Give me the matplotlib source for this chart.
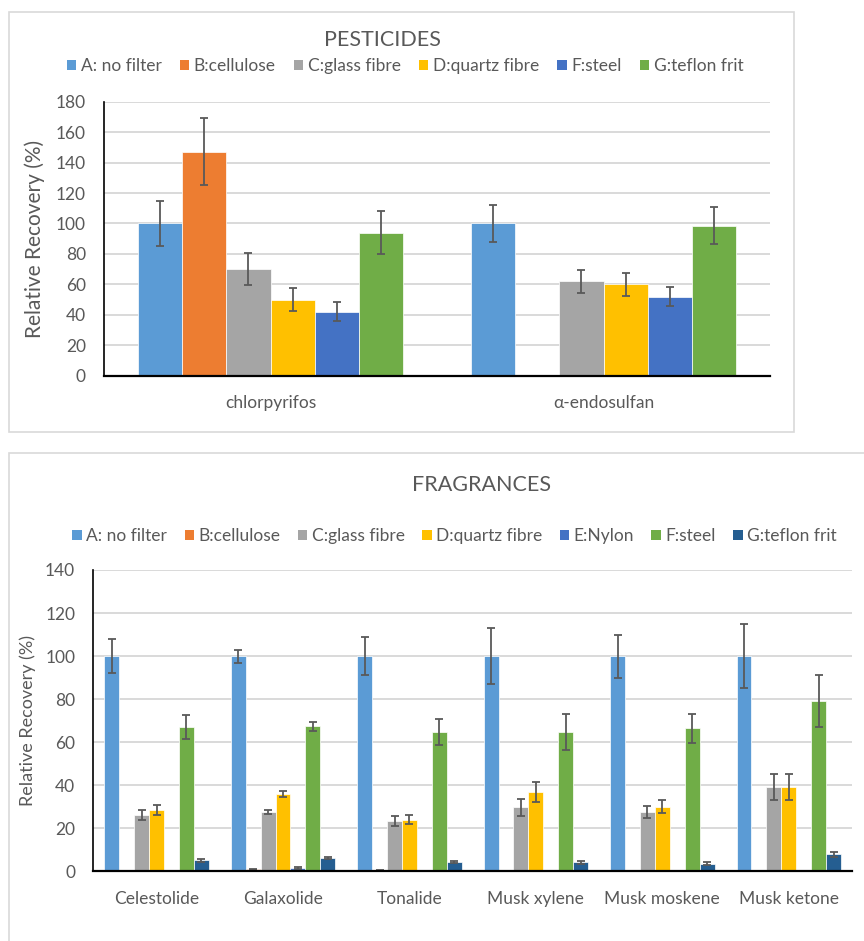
import numpy as np
import matplotlib
matplotlib.use("Agg")
import matplotlib.pyplot as plt
from matplotlib.patches import Patch, Rectangle

plt.rcParams['font.family'] = ['Lato', 'DejaVu Sans']

# ---------------- data ----------------
pest_categories = ["chlorpyrifos", "α-endosulfan"]
pest_series = ["A: no filter", "B:cellulose", "C:glass fibre", "D:quartz fibre", "F:steel", "G:teflon frit"]
pest_values = [
    [100, 100],
    [147, 0],
    [70, 62],
    [50, 60],
    [42, 52],
    [94, 98.5],
]
pest_errors = [
    [15, 12],
    [22, 0],
    [10.5, 7.5],
    [7.5, 7.4],
    [6.3, 6.4],
    [14.3, 12],
]

frag_categories = ["Celestolide", "Galaxolide", "Tonalide", "Musk xylene", "Musk moskene", "Musk ketone"]
frag_series = ["A: no filter", "B:cellulose", "C:glass fibre", "D:quartz fibre", "E:Nylon", "F:steel", "G:teflon frit"]
frag_values = [
    [100, 100, 100, 100, 100, 100],
    [0.3, 1.0, 0.4, 0, 0, 0],
    [26, 27.5, 23.5, 29.7, 27.5, 39.3],
    [28.3, 36, 24, 36.8, 30, 39.3],
    [0, 1.5, 0.3, 0, 0, 0],
    [66.9, 67.4, 64.9, 64.6, 66.5, 79.1],
    [5.1, 6.2, 4.3, 4.2, 3.6, 7.9],
]
frag_errors = [
    [8, 3, 9, 13, 10, 15],
    [0, 0.3, 0.1, 0, 0, 0],
    [2.3, 0.8, 2.3, 4, 2.8, 6],
    [2.3, 1.3, 2.2, 4.8, 3, 6],
    [0, 0.3, 0, 0, 0, 0],
    [5.5, 2.2, 6, 8.4, 6.7, 12],
    [0.6, 0.4, 0.6, 0.6, 0.5, 1.3],
]

pest_colors = ["#5B9BD5", "#ED7D31", "#A5A5A5", "#FFC000", "#4472C4", "#70AD47"]
frag_colors = ["#5B9BD5", "#ED7D31", "#A5A5A5", "#FFC000", "#4472C4", "#70AD47", "#255E91"]

# ---------------- layout helpers ----------------
W, H = 864, 941
fig = plt.figure(figsize=(W / 100, H / 100), dpi=100)
TXT = "#595959"
GRID = "#D9D9D9"


def fx(x):
    return x / W


def fy(y):
    return 1 - y / H


def axes_px(left, top, right, bottom):
    return fig.add_axes([fx(left), fy(bottom), (right - left) / W, (bottom - top) / H])


def draw_bars(ax, categories, values, errors, colors, group, ymax, step, skip_zero_err, label_size):
    n = len(values)
    x = np.arange(len(categories))
    bw = group / n
    for i, (vals, errs, col) in enumerate(zip(values, errors, colors)):
        pos = x - group / 2 + bw * (i + 0.5)
        vals = np.asarray(vals, float)
        errs = np.asarray(errs, float)
        ax.bar(pos, vals, width=bw, color=col, edgecolor="white", linewidth=0.5, zorder=2)
        e = errs.copy()
        if skip_zero_err:
            e[e == 0] = np.nan
        ax.errorbar(pos, vals, yerr=e, fmt="none", ecolor="#595959",
                    elinewidth=1.3, capsize=3.2, capthick=1.3, zorder=3)
    ax.set_xlim(-0.5, len(categories) - 0.5)
    ax.set_ylim(0, ymax)
    ax.set_yticks(np.arange(0, ymax + 1, step))
    ax.set_xticks(x)
    ax.set_xticklabels(categories)
    ax.yaxis.grid(True, color=GRID, linewidth=1.4, zorder=0)
    ax.set_axisbelow(True)
    for s in ("top", "right"):
        ax.spines[s].set_visible(False)
    ax.spines["left"].set_color("black")
    ax.spines["left"].set_linewidth(1.2)
    ax.spines["bottom"].set_color("black")
    ax.spines["bottom"].set_linewidth(1.6)
    ax.spines["bottom"].set_zorder(4)
    ax.tick_params(axis="y", length=0, pad=13, labelsize=12.5, labelcolor=TXT)
    ax.tick_params(axis="x", length=0, pad=14, labelsize=12.5, labelcolor=TXT)
    ax.set_ylabel("Relative Recovery (%)", fontsize=label_size, color=TXT)


# chart frames
fig.add_artist(Rectangle((fx(9), fy(432)), (794 - 9) / W, (432 - 11.7) / H,
                         transform=fig.transFigure, fill=False, edgecolor=GRID, linewidth=1.2))
fig.add_artist(Rectangle((fx(9), fy(1000)), (1000) / W, (1000 - 452.7) / H,
                         transform=fig.transFigure, fill=False, edgecolor=GRID, linewidth=1.2,
                         clip_on=False))

# ---------------- pesticides ----------------
ax1 = axes_px(104, 101.7, 770, 375.7)
draw_bars(ax1, pest_categories, pest_values, pest_errors, pest_colors, 0.798, 180, 20, False, 15)
ax1.yaxis.set_label_coords((45 - 104) / 666, 0.5)

fig.text(fx(382), fy(39.5), "PESTICIDES", ha="center", va="center", fontsize=15.5, color=TXT)
h1 = [Patch(facecolor=c, edgecolor="none") for c in pest_colors]
fig.legend(h1, pest_series, loc="center", bbox_to_anchor=(fx(405), fy(66)), ncol=len(h1),
           frameon=False, fontsize=12.5, labelcolor=TXT, handlelength=0.55, handleheight=0.55,
           handletextpad=0.25, columnspacing=1.05, borderaxespad=0, borderpad=0)

# ---------------- fragrances ----------------
ax2 = axes_px(93.3, 570, 852, 871.3)
draw_bars(ax2, frag_categories, frag_values, frag_errors, frag_colors, 0.826, 140, 20, True, 13)
ax2.yaxis.set_label_coords((36 - 93.3) / (852 - 93.3), 0.5)

fig.text(fx(481.7), fy(485), "FRAGRANCES", ha="center", va="center", fontsize=15.5, color=TXT)
h2 = [Patch(facecolor=c, edgecolor="none") for c in frag_colors]
fig.legend(h2, frag_series, loc="center", bbox_to_anchor=(fx(454.5), fy(536)), ncol=len(h2),
           frameon=False, fontsize=12.5, labelcolor=TXT, handlelength=0.55, handleheight=0.55,
           handletextpad=0.25, columnspacing=1.0, borderaxespad=0, borderpad=0)

fig.savefig("out.png", dpi=100)
